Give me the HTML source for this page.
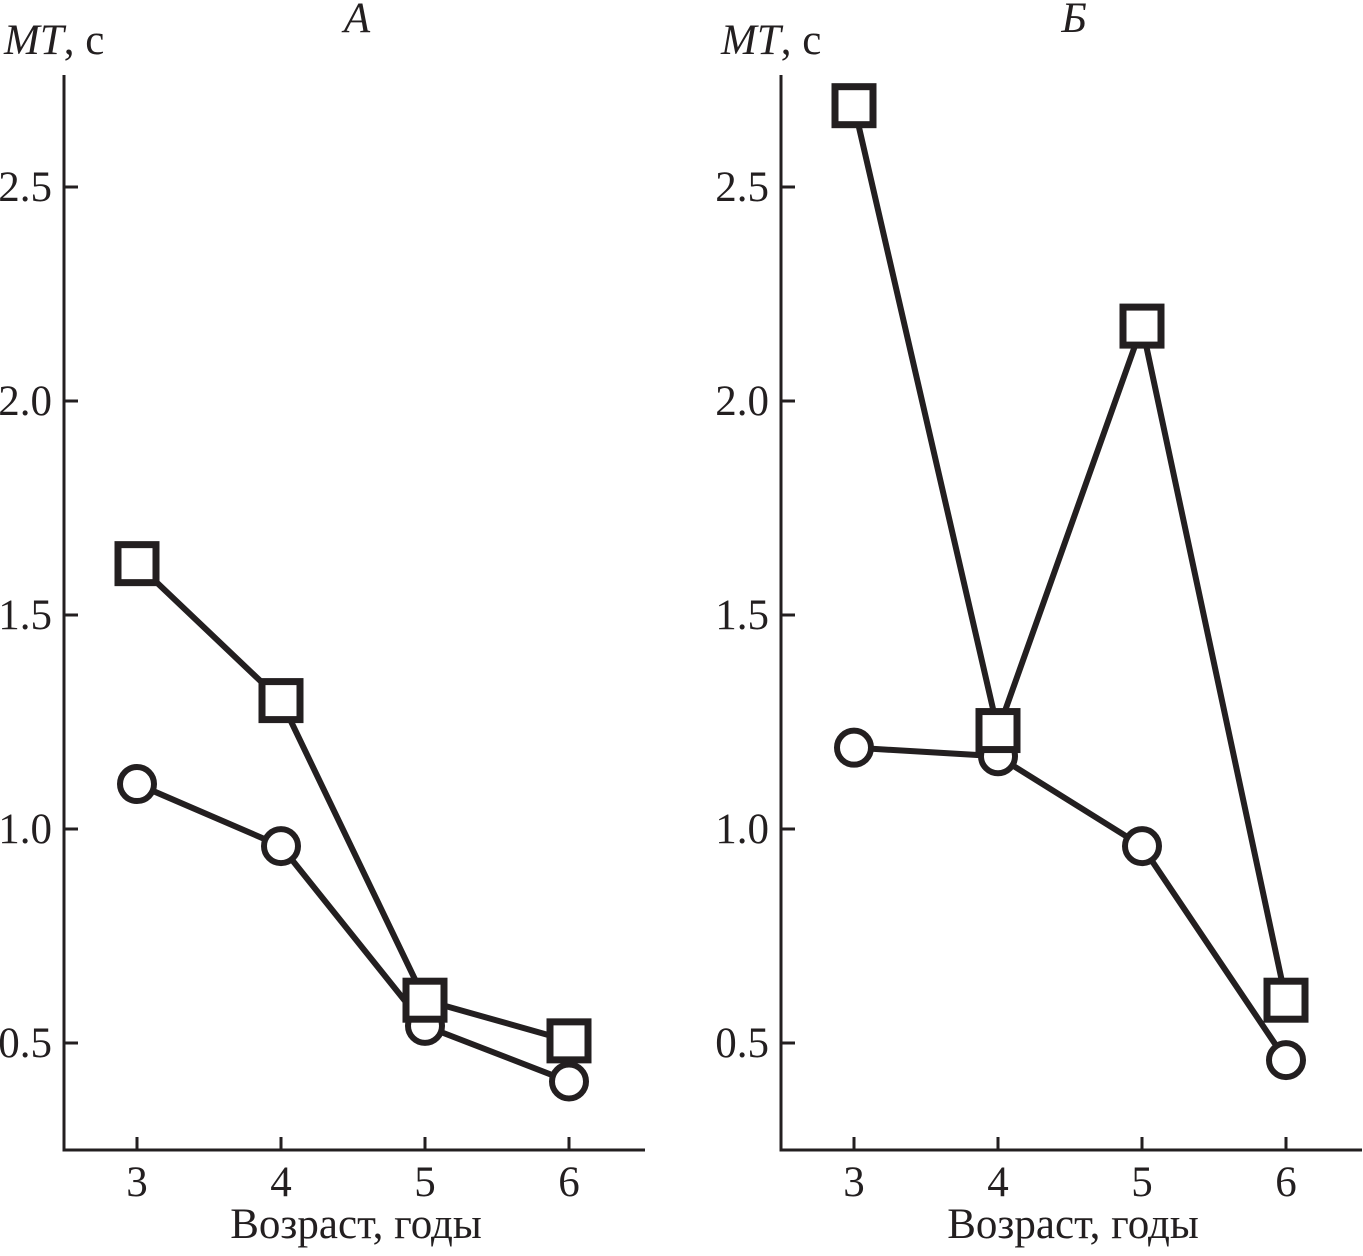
<!DOCTYPE html>
<html><head><meta charset="utf-8"><style>
body{margin:0;background:#fff}
text{font-family:"Liberation Serif",serif;fill:#231f20}
</style></head><body>
<svg width="1363" height="1251" viewBox="0 0 1363 1251" xmlns="http://www.w3.org/2000/svg">
<g id="root"></g>
</svg>
<script>
const ages=[3,4,5,6];
const yTicks=[0.5,1.0,1.5,2.0,2.5];
const yTickLabels=["0.5","1.0","1.5","2.0","2.5"];
const squaresA=[1.62,1.30,0.60,0.505];
const circlesA=[1.105,0.96,0.54,0.41];
const squaresB=[2.69,1.23,2.175,0.60];
const circlesB=[1.19,1.17,0.96,0.46];
const panelTitles=["А","Б"];

const NS="http://www.w3.org/2000/svg";
const root=document.getElementById('root');
function mk(tag,attrs,parent){const e=document.createElementNS(NS,tag);for(const k in attrs)e.setAttribute(k,attrs[k]);(parent||root).appendChild(e);return e;}
function yScale(v){return 1043-(v-0.5)*428;}
const col="#231f20";
function panel(ox,title,sq,ci,pname){
  const g=mk('g',{});
  
  
  const xScale=a=>ox+73+(a-3)*144;
  const ax=mk('path',{d:`M${ox} 75 V1150 H${ox+581}`,stroke:col,'stroke-width':3,fill:'none'},g);
  
  
  yTicks.forEach((v,i)=>{
    const y=yScale(v);
    const t=mk('line',{x1:ox,x2:ox+14,y1:y,y2:y,stroke:col,'stroke-width':3},g);
    
    
    const l=mk('text',{x:ox-12,y:y+14,'text-anchor':'end','font-size':43},g);
    
    
    l.textContent=yTickLabels[i];
  });
  ages.forEach(a=>{
    const x=xScale(a);
    const t=mk('line',{x1:x,x2:x,y1:1150,y2:1137,stroke:col,'stroke-width':3},g);
    
    
    const l=mk('text',{x:x,y:1196,'text-anchor':'middle','font-size':43},g);
    
    
    l.textContent=String(a);
  });
  const xt=mk('text',{x:ox+292,y:1238,'text-anchor':'middle','font-size':43},g);
  
  
  xt.textContent="Возраст, годы";
  const yt=mk('text',{x:ox-60,y:54,'font-size':43},g);
  
  
  yt.innerHTML='<tspan font-style="italic">MT</tspan>, с';
  const tt=mk('text',{x:ox+293,y:32,'text-anchor':'middle','font-size':43,'font-style':'italic'},g);
  
  
  tt.textContent=title;
  [[ci,'circle'],[sq,'square']].forEach(([arr,kind])=>{
    const pts=arr.map((v,i)=>[xScale(ages[i]),yScale(v)]);
    const pl=mk('polyline',{points:pts.map(p=>p.join(',')).join(' '),stroke:col,'stroke-width':6,fill:'none'},g);
    
    
    pts.forEach(p=>{
      let m;
      if(kind==='square') m=mk('rect',{x:p[0]-19,y:p[1]-19,width:38,height:38,fill:'#fff',stroke:col,'stroke-width':7},g);
      else m=mk('circle',{cx:p[0],cy:p[1],r:17,fill:'#fff',stroke:col,'stroke-width':6},g);
      
      
    });
  });
}
panel(64,panelTitles[0],squaresA,circlesA,'panel-a');
panel(781,panelTitles[1],squaresB,circlesB,'panel-b');
</script>
</body></html>
